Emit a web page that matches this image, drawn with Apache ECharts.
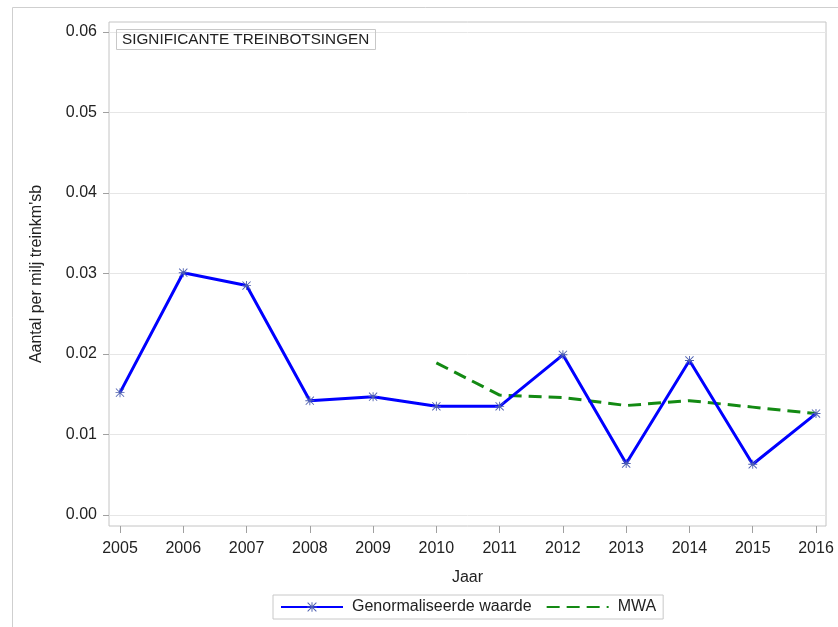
<!DOCTYPE html>
<html>
<head>
<meta charset="utf-8">
<script src="https://cdn.jsdelivr.net/npm/echarts@6/dist/echarts.min.js"></script>
<style>
html,body{margin:0;padding:0;background:#fff;}
#chart{width:838px;height:627px;}
</style>
</head>
<body>
<div id="chart"></div>
<script>
var YEARS = [2005, 2006, 2007, 2008, 2009, 2010, 2011, 2012, 2013, 2014, 2015, 2016];
var GENORM = [0.0152, 0.0301, 0.0285, 0.0142, 0.0147, 0.0135, 0.0135, 0.0199, 0.0064, 0.0192, 0.0063, 0.0126];
var MWA = [null, null, null, null, null, 0.0189, 0.0149, 0.0146, 0.0136, 0.0142, 0.0134, 0.0126];
var Y_TICKS = [0, 0.01, 0.02, 0.03, 0.04, 0.05, 0.06];
var TITLE = 'SIGNIFICANTE TREINBOTSINGEN';
var X_NAME = 'Jaar';
var Y_NAME = "Aantal per milj treinkm'sb";
var SERIES_NAMES = ['Genormaliseerde waarde', 'MWA'];

var FONT = "'Liberation Sans', Arial, sans-serif";
var STAR = 'path://M4.5 0h1v10h-1z M0 4.5h10v1h-10z M0.8 0.1L9.9 9.2L9.2 9.9L0.1 0.8Z M9.2 0.1L9.9 0.8L0.8 9.9L0.1 9.2Z';

function pairs(vals) {
  var out = [];
  for (var i = 0; i < YEARS.length; i++) {
    if (vals[i] !== null) out.push([YEARS[i], vals[i]]);
  }
  return out;
}

var chart = echarts.init(document.getElementById('chart'), null, {renderer: 'canvas'});
chart.setOption({
  animation: false,
  backgroundColor: '#fff',
  graphic: [{
    type: 'rect', z: -10, silent: true,
    shape: {x: 12.5, y: 7.5, width: 900, height: 700},
    style: {fill: 'none', stroke: '#cfcfcf', lineWidth: 1}
  }],
  title: {
    text: TITLE,
    left: 116, top: 29,
    padding: [3, 6, 3, 6],
    borderColor: '#c8c8c8', borderWidth: 1,
    textStyle: {fontFamily: FONT, fontSize: 15.3, fontWeight: 'normal', color: '#222'}
  },
  legend: {
    left: 273, top: 595,
    padding: [4, 7, 4, 7],
    borderColor: '#c8c8c8', borderWidth: 1,
    itemWidth: 62, itemHeight: 12, itemGap: 14,
    textStyle: {fontFamily: FONT, fontSize: 16, color: '#222', padding: [0, 0, 0, 4]},
    data: [
      {name: SERIES_NAMES[0]},
      {name: SERIES_NAMES[1], itemStyle: {opacity: 0}}
    ]
  },
  grid: {
    left: 109, right: 12, top: 22, bottom: 101,
    show: true, borderColor: '#c4c4c4', borderWidth: 1, backgroundColor: 'transparent'
  },
  xAxis: {
    type: 'value',
    position: 'bottom',
    min: 2005 - 11 / 63.27, max: 2016 + 10 / 63.27,
    name: X_NAME, nameLocation: 'middle', nameGap: 44,
    nameTextStyle: {fontFamily: FONT, fontSize: 16, color: '#222'},
    axisLine: {show: false, onZero: false},
    axisTick: {show: true, inside: false, length: 7, lineStyle: {color: '#a0a0a0'}, customValues: YEARS},
    axisLabel: {fontFamily: FONT, fontSize: 16, color: '#222', margin: 15, customValues: YEARS,
      formatter: function (v) { return String(Math.round(v)); }},
    splitLine: {show: false}
  },
  yAxis: {
    type: 'value',
    position: 'left',
    min: -11 / 8050, max: 0.06 + 10 / 8050,
    name: Y_NAME, nameLocation: 'middle', nameGap: 64,
    nameTextStyle: {fontFamily: FONT, fontSize: 16, color: '#222'},
    axisLine: {show: false, onZero: false},
    axisTick: {show: true, inside: false, length: 6, lineStyle: {color: '#a0a0a0'}, customValues: Y_TICKS},
    axisLabel: {fontFamily: FONT, fontSize: 16, color: '#222', margin: 12, customValues: Y_TICKS,
      formatter: function (v) { return v.toFixed(2); }},
    splitLine: {show: true, lineStyle: {color: '#e6e6e6', width: 1}}
  },
  series: [{
    name: SERIES_NAMES[0],
    type: 'line',
    data: pairs(GENORM),
    symbol: STAR, symbolSize: 9, showSymbol: true,
    lineStyle: {color: '#0000ff', width: 3},
    itemStyle: {color: '#4d5fb0'},
    z: 3
  }, {
    name: SERIES_NAMES[1],
    type: 'line',
    data: pairs(MWA),
    symbol: 'none',
    lineStyle: {color: '#138a13', width: 3, type: [13, 7]},
    itemStyle: {color: '#138a13'},
    z: 2
  }]
});
</script>
</body>
</html>
